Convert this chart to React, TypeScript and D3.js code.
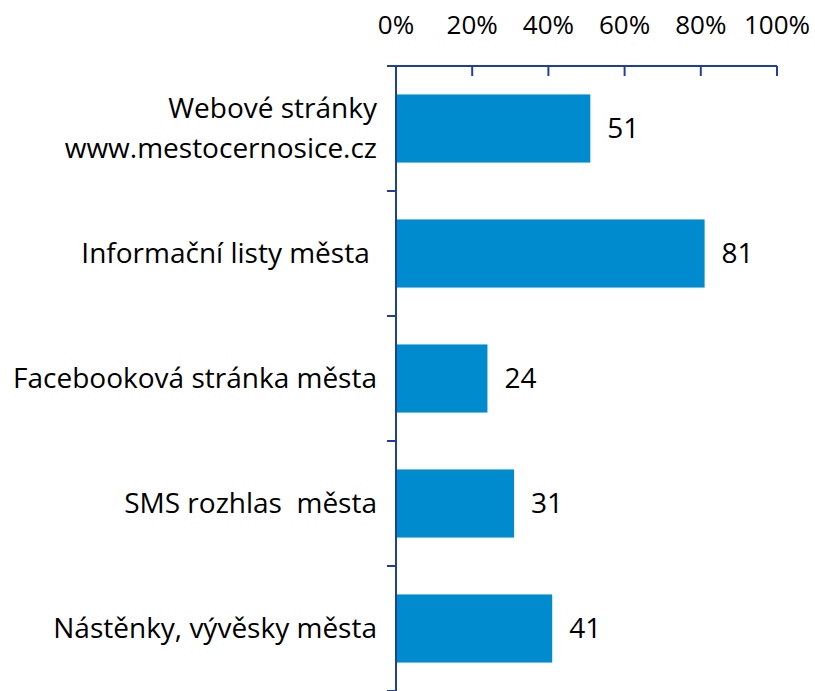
import React, { useEffect, useRef } from 'react';
import * as d3 from 'd3';

const categories = [
  ['Webové stránky', 'www.mestocernosice.cz'],
  ['Informační listy města '],
  ['Facebooková stránka města'],
  ['SMS rozhlas  města'],
  ['Nástěnky, vývěsky města'],
];
const values = [51, 81, 24, 31, 41];
const xTicks = [0, 20, 40, 60, 80, 100];

const W = 815;
const H = 691;
const FONT = 'Open Sans, sans-serif';

const App = () => {
  const svgRef = useRef<SVGSVGElement>(null);

  useEffect(() => {
    const svg = d3.select(svgRef.current);
    svg.selectAll('*').remove();

    const margin = { top: 66, right: 38, bottom: 0, left: 396 };
    const width = 777 - margin.left;
    const height = H - margin.top - margin.bottom;
    const axisColor = '#1f3f9f';

    const x = d3.scaleLinear().domain([0, 100]).range([0, width]);
    const y = d3.scaleBand<number>()
      .domain(d3.range(categories.length))
      .range([0, height])
      .paddingInner(0.455)
      .paddingOuter(0.2275);

    const g = svg.append('g').attr('transform', `translate(${margin.left},${margin.top})`);

    // bars
    g.selectAll('rect.bar')
      .data(values)
      .join('rect')
      .attr('class', 'bar')
      .attr('x', 0)
      .attr('y', (d, i) => y(i)!)
      .attr('width', d => x(d))
      .attr('height', y.bandwidth())
      .attr('fill', '#008bcf');

    // value labels
    g.selectAll('text.val')
      .data(values)
      .join('text')
      .attr('class', 'val')
      .attr('x', d => x(d) + 17)
      .attr('y', (d, i) => y(i)! + y.bandwidth() / 2)
      .attr('dy', '0.35em')
      .attr('font-family', FONT)
      .attr('font-size', 28)
      .attr('fill', '#000')
      .text(d => d);

    // top axis
    const xa = g.append('g');
    xa.append('line')
      .attr('x1', -9).attr('x2', width)
      .attr('y1', 0).attr('y2', 0)
      .attr('stroke', axisColor).attr('stroke-width', 2);
    xa.selectAll('line.tick')
      .data(xTicks)
      .join('line')
      .attr('class', 'tick')
      .attr('x1', d => x(d)).attr('x2', d => x(d))
      .attr('y1', 0).attr('y2', 10)
      .attr('stroke', axisColor).attr('stroke-width', 2);
    xa.selectAll('text')
      .data(xTicks)
      .join('text')
      .attr('x', d => x(d))
      .attr('y', -32)
      .attr('text-anchor', 'middle')
      .attr('font-family', FONT)
      .attr('font-size', 26)
      .attr('fill', '#000')
      .text(d => `${d}%`);

    // left axis
    const step = height / categories.length;
    const ya = g.append('g');
    ya.append('line')
      .attr('x1', 0).attr('x2', 0)
      .attr('y1', 0).attr('y2', height)
      .attr('stroke', axisColor).attr('stroke-width', 2);
    ya.selectAll('line.tick')
      .data(d3.range(1, categories.length + 1))
      .join('line')
      .attr('class', 'tick')
      .attr('x1', -9).attr('x2', 0)
      .attr('y1', d => d * step).attr('y2', d => d * step)
      .attr('stroke', axisColor).attr('stroke-width', 2);

    // category labels
    const lineH = 40;
    categories.forEach((lines, i) => {
      const cy = y(i)! + y.bandwidth() / 2;
      const t = g.append('text')
        .attr('text-anchor', 'end')
        .attr('font-family', FONT)
        .attr('font-size', 28)
        .attr('fill', '#000')
        .style('white-space', 'pre');
      lines.forEach((ln, j) => {
        t.append('tspan')
          .attr('x', -19)
          .attr('y', cy + (j - (lines.length - 1) / 2) * lineH)
          .attr('dy', '0.35em')
          .text(ln);
      });
    });
  }, []);

  return <svg ref={svgRef} width={W} height={H} style={{ position: 'absolute', left: 0, top: 0 }} />;
};

export default App;
